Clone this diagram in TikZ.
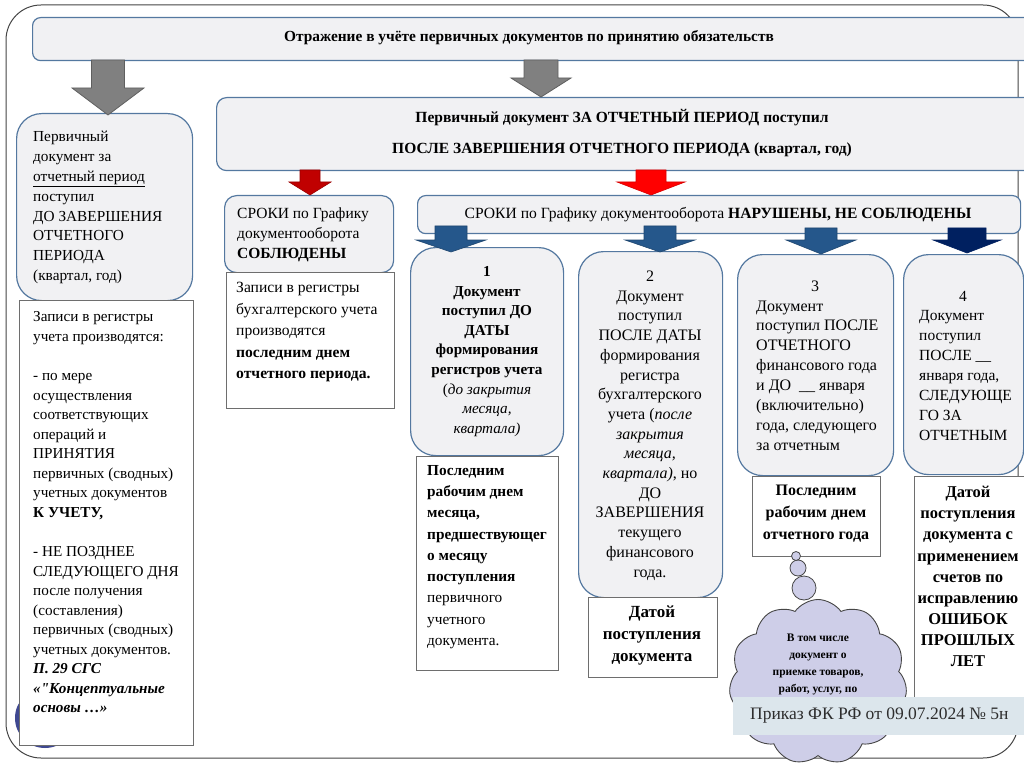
\documentclass[tikz,border=0pt]{standalone}
\usepackage{fontspec}
\setmainfont{Liberation Serif}
\usetikzlibrary{shapes.symbols}
\definecolor{boxfill}{RGB}{241,241,243}
\definecolor{boxborder}{RGB}{84,120,160}
\definecolor{rectborder}{RGB}{110,110,110}
\definecolor{framecol}{RGB}{70,70,70}
\definecolor{grayarr}{RGB}{128,128,128}
\definecolor{grayarrb}{RGB}{95,95,95}
\definecolor{reddark}{RGB}{192,0,0}
\definecolor{redbright}{RGB}{255,0,0}
\definecolor{bluearr}{RGB}{37,87,139}
\definecolor{navyarr}{RGB}{0,32,96}
\definecolor{cloudfill}{RGB}{206,206,232}
\definecolor{bannerfill}{RGB}{220,230,236}
\definecolor{bannertext}{RGB}{45,45,45}
\definecolor{dotcol}{RGB}{63,72,145}
\newcommand{\blockarr}[7]{%
  \draw[#7] (#1-#3,#2) -- (#1+#3,#2) -- (#1+#3,#5) -- (#1+#4,#5) -- (#1,#6) -- (#1-#4,#5) -- (#1-#3,#5) -- cycle;}
\newcommand{\fsz}[2]{\fontsize{#1}{#2}\selectfont}
\newcommand{\straightquote}{{\addfontfeatures{Ligatures=TeXOff}"}}
\tikzset{
  rbox/.style={draw=boxborder, fill=boxfill, line width=1.2pt, rounded corners=#1, anchor=north west, inner sep=0pt},
  rbox/.default=25,
  rectbox/.style={draw=rectborder, fill=white, line width=0.9pt, anchor=north west, inner sep=0pt},
  txt/.style={inner sep=0pt, align=left, text=black},
  ctxt/.style={inner sep=0pt, align=center, text=black},
  grayA/.style={fill=grayarr, draw=grayarrb, line width=0.8pt},
  redA/.style={fill=reddark, draw=reddark!80!black, line width=0.6pt},
  redB/.style={fill=redbright, draw=redbright!85!black, line width=0.6pt},
  blueA/.style={fill=bluearr, draw=bluearr!80!black, line width=0.6pt},
  navyA/.style={fill=navyarr, draw=navyarr, line width=0.6pt},
}
\begin{document}
\begin{tikzpicture}[x=1pt,y=-1pt]
\clip (0,0) rectangle (1024,767);
\fill[white] (0,0) rectangle (1024,767);
% outer frame
\draw[draw=framecol, line width=1pt, rounded corners=35] (6,5) rectangle (1018,758);
% dark circle behind left box
\node[circle, fill=dotcol, minimum size=60pt, inner sep=0pt] (dot) at (45,718) {};

% title
\node[rbox=8, minimum width=1010pt, minimum height=43pt] (T) at (32,17) {};
\node[ctxt, font=\bfseries\fsz{15.4}{17}] (Ttx) at (529,38) {Отражение в учёте первичных документов по принятию обязательств};

% box C
\node[rbox=10, minimum width=830pt, minimum height=73pt] (C) at (216,97) {};
\node[ctxt, font=\bfseries\fsz{15.5}{31}] (Ctx) at (622,133) {Первичный документ ЗА ОТЧЕТНЫЙ ПЕРИОД поступил\\ПОСЛЕ ЗАВЕРШЕНИЯ ОТЧЕТНОГО ПЕРИОДА (квартал, год)};

% left column
\node[rbox=25, minimum width=176pt, minimum height=187pt] (A) at (16,113) {};
\node[txt, font=\fsz{15.3}{19.9}, anchor=west] (Atx) at (33,207.5) {Первичный\\документ за\\\underline{отчетный период}\\поступил\\ДО ЗАВЕРШЕНИЯ\\ОТЧЕТНОГО\\ПЕРИОДА\\(квартал, год)};
\node[rectbox, minimum width=174pt, minimum height=445pt] (B) at (19,300) {};
\node[txt, font=\fsz{15.2}{19.55}, anchor=west] (Btx) at (33,512.5) {Записи в регистры\\учета производятся:\\[19.55pt]- по мере\\осуществления\\соответствующих\\операций и\\ПРИНЯТИЯ\\первичных (сводных)\\учетных документов\\\textbf{К УЧЕТУ,}\\[19.55pt]- НЕ ПОЗДНЕЕ\\СЛЕДУЮЩЕГО ДНЯ\\после получения\\(составления)\\первичных (сводных)\\учетных документов.\\\textbf{\textit{П. 29 СГС}}\\\textbf{\textit{«\straightquote Концептуальные}}\\\textbf{\textit{основы …»}}};

% D and E
\node[rbox=12, minimum width=169pt, minimum height=77pt] (D) at (224,195) {};
\node[txt, font=\fsz{15.5}{20}, anchor=west] (Dtx) at (237,235) {СРОКИ по Графику\\документооборота\\\textbf{СОБЛЮДЕНЫ}};
\node[rectbox, minimum width=168pt, minimum height=136pt] (E) at (226,272) {};
\node[txt, font=\fsz{15.6}{21.5}, anchor=west] (Etx) at (236,332) {Записи в регистры\\бухгалтерского учета\\производятся\\\textbf{последним днем}\\\textbf{отчетного периода.}};

% F
\node[rbox=8, minimum width=603pt, minimum height=38pt] (F) at (417,195) {};
\node[ctxt, font=\fsz{15.6}{17}] (Ftx) at (718,215) {СРОКИ по Графику документооборота \textbf{НАРУШЕНЫ, НЕ СОБЛЮДЕНЫ}};

% column 1
\node[rbox=25, minimum width=153pt, minimum height=208pt] (G) at (410,247) {};
\node[ctxt, font=\fsz{15.2}{19.6}] (Gtx) at (487,351.5) {\textbf{1}\\\textbf{Документ}\\\textbf{поступил ДО}\\\textbf{ДАТЫ}\\\textbf{формирования}\\\textbf{регистров учета}\\(\textit{до закрытия}\\\textit{месяца,}\\\textit{квартала)}};
\node[rectbox, minimum width=142pt, minimum height=214pt] (H) at (416,456) {};
\node[txt, font=\fsz{15.3}{21.25}, anchor=west] (Htx) at (427,557) {\textbf{Последним}\\\textbf{рабочим днем}\\\textbf{месяца,}\\\textbf{предшествующег}\\\textbf{о месяцу}\\\textbf{поступления}\\первичного\\учетного\\документа.};

% column 2
\node[rbox=25, minimum width=144pt, minimum height=346pt] (I) at (578,251) {};
\node[ctxt, font=\fsz{16}{19.7}] (Itx) at (650,425.5) {2\\Документ\\поступил\\ПОСЛЕ ДАТЫ\\формирования\\регистра\\бухгалтерского\\учета (\textit{после}\\\textit{закрытия}\\\textit{месяца,}\\\textit{квартала)}, но\\ДО\\ЗАВЕРШЕНИЯ\\текущего\\финансового\\года.};
\node[rectbox, minimum width=129pt, minimum height=80pt] (J) at (588,597) {};
\node[ctxt, font=\bfseries\fsz{17}{22}] (Jtx) at (652,635) {Датой\\поступления\\документа};

% column 3
\node[rbox=25, minimum width=156pt, minimum height=221pt] (K) at (737,254) {};
\node[ctxt, font=\fsz{16}{20}] (Knum) at (815,286) {3};
\node[txt, font=\fsz{16}{19.9}, anchor=west] (Ktx) at (756,375.5) {Документ\\поступил ПОСЛЕ\\ОТЧЕТНОГО\\финансового года\\и ДО \ \_\_ января\\(включительно)\\года, следующего\\за отчетным};
\node[rectbox, minimum width=128pt, minimum height=80pt] (L) at (752,476) {};
\node[ctxt, font=\bfseries\fsz{16}{22}] (Ltx) at (816,514) {Последним\\рабочим днем\\отчетного года};

% column 4
\node[rbox=25, minimum width=120pt, minimum height=220pt] (M) at (903,254) {};
\node[ctxt, font=\fsz{15.5}{20}] (Mnum) at (963,296) {4};
\node[txt, font=\fsz{15.5}{20}, anchor=west] (Mtx) at (919,375) {Документ\\поступил\\ПОСЛЕ \_\_\\января года,\\СЛЕДУЮЩЕ\\ГО ЗА\\ОТЧЕТНЫМ};
\node[rectbox, minimum width=130pt, minimum height=240pt] (N) at (914,476) {};
\node[ctxt, font=\bfseries\fsz{16.5}{21.1}] (Ntx) at (968,576.5) {Датой\\поступления\\документа с\\применением\\счетов по\\исправлению\\ОШИБОК\\ПРОШЛЫХ\\ЛЕТ};

% arrows
\blockarr{108}{60}{16.5}{36}{88}{115}{grayA}
\blockarr{541}{60}{17}{30}{78}{97}{grayA}
\blockarr{310}{170}{10}{21}{182}{195}{redA}
\blockarr{651}{170}{15}{34}{182}{195}{redB}
\blockarr{451}{226}{16}{35}{240}{252}{blueA}
\blockarr{660}{226}{16}{35}{240}{252}{blueA}
\blockarr{821}{228}{16}{35}{240}{254}{blueA}
\blockarr{967}{228}{19}{34}{240}{253}{navyA}

% thought bubbles and cloud
\node[cloud, cloud puffs=11, cloud puff arc=110, aspect=1.05, draw=framecol, fill=cloudfill, line width=0.9pt, minimum width=178pt, minimum height=165pt, inner sep=0pt] (cl) at (818,682) {};
\node[circle, draw=framecol, fill=cloudfill, line width=0.8pt, minimum size=24pt, inner sep=0pt] (b3) at (804,588) {};
\node[circle, draw=framecol, fill=cloudfill, line width=0.8pt, minimum size=16pt, inner sep=0pt] (b2) at (798,568) {};
\node[circle, draw=framecol, fill=cloudfill, line width=0.8pt, minimum size=9pt, inner sep=0pt] (b1) at (796,556) {};
\node[ctxt, font=\bfseries\fsz{11.5}{17}] (cltx) at (818,664) {В том числе\\документ о\\приемке товаров,\\работ, услуг, по};

% banner
\node[fill=bannerfill, anchor=north west, minimum width=300pt, minimum height=38pt, inner sep=0pt] (ban) at (733,697) {};
\node[txt, font=\fsz{17.5}{20}, text=bannertext, anchor=west] (bantx) at (750,716) {Приказ ФК РФ от 09.07.2024 № 5н};
\end{tikzpicture}
\end{document}
